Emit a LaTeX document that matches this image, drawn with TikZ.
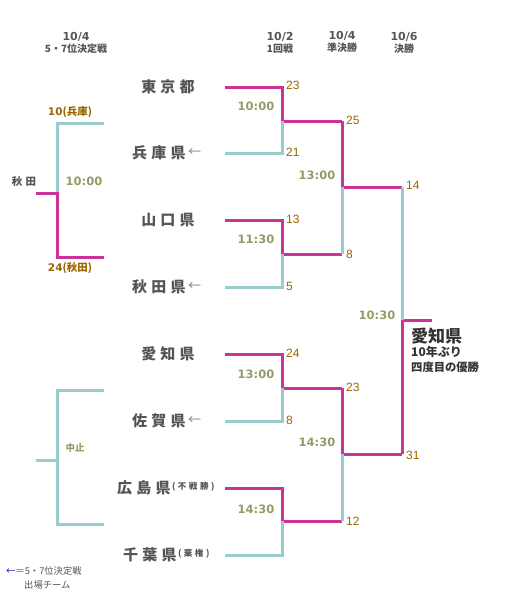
\documentclass[tikz,border=0pt]{standalone}
\usepackage{fontspec}
\setmainfont{DejaVu Sans}
\newfontfamily\scorefont{Liberation Sans}
\newfontfamily\jp{Noto Sans CJK JP}
\newfontfamily\jpsp{Noto Sans CJK JP}[LetterSpace=28]
\newfontfamily\jpsm{Noto Sans CJK JP}[LetterSpace=30]
\definecolor{mag}{HTML}{CC3399}
\definecolor{cy}{HTML}{99CCCC}
\definecolor{sc}{HTML}{996600}
\definecolor{tm}{HTML}{999966}
\definecolor{tx}{HTML}{555555}
\definecolor{win}{HTML}{333333}
\tikzset{
  won/.style={draw=mag,line width=3pt},
  lost/.style={draw=cy,line width=3pt},
  team/.style={text=tx,font=\jpsp\bfseries\fontsize{15}{15}\selectfont,inner sep=0pt},
  note/.style={text=tx,font=\jpsm\bfseries\fontsize{8.5}{8.5}\selectfont,anchor=west,inner sep=0pt},
  score/.style={text=sc,font=\scorefont\fontsize{12}{12}\selectfont,anchor=west,inner sep=0pt},
  time/.style={text=tm,font=\bfseries\fontsize{11.5}{11.5}\selectfont,inner sep=0pt},
  head/.style={text=tx,font=\bfseries\fontsize{11}{11}\selectfont,inner sep=0pt},
  sub/.style={text=tx,font=\jp\bfseries\fontsize{10}{10}\selectfont,inner sep=0pt},
  arr/.style={text=gray,font=\jp\fontsize{13}{13}\selectfont,anchor=west,inner sep=0pt}
}
\begin{document}
\begin{tikzpicture}[x=1pt,y=-1pt]
\useasboundingbox (0,0) rectangle (520,597);
% coordinates
\foreach \n/\y in {1/87,2/153,3/220,4/287,5/354,6/421,7/488,8/555}{
  \coordinate (L\n) at (225,\y);
  \coordinate (R\n) at (282,\y);
}
\foreach \n/\y in {1/121,2/254,3/388,4/521}{
  \coordinate (M\n) at (282,\y);
  \coordinate (Q\n) at (342,\y);
}
\coordinate (S1) at (342,187); \coordinate (F1) at (402,187);
\coordinate (S2) at (342,454); \coordinate (F2) at (402,454);
\coordinate (FM) at (402,320); \coordinate (FE) at (432,320);
% round 1
\draw[won] (L1) -- (R1) -- (M1) -- (Q1);
\draw[lost] (L2) -- (R2) -- (M1);
\draw[won] (L3) -- (R3) -- (M2) -- (Q2);
\draw[lost] (L4) -- (R4) -- (M2);
\draw[won] (L5) -- (R5) -- (M3) -- (Q3);
\draw[lost] (L6) -- (R6) -- (M3);
\draw[won] (L7) -- (R7) -- (M4) -- (Q4);
\draw[lost] (L8) -- (R8) -- (M4);
% semifinals
\draw[won] (Q1) -- (S1) -- (F1);
\draw[lost] (Q2) -- (S1);
\draw[won] (Q3) -- (S2) -- (F2);
\draw[lost] (Q4) -- (S2);
% final
\draw[won] (F2) -- (FM) -- (FE);
\draw[lost] (F1) -- (FM);
% consolation 1
\coordinate (CA) at (104,123); \coordinate (CB) at (57,123);
\coordinate (CM) at (57,193); \coordinate (CS) at (36,193);
\coordinate (CC) at (57,257); \coordinate (CD) at (104,257);
\draw[lost] (CA) -- (CB) -- (CM);
\draw[won] (CD) -- (CC) -- (CM) -- (CS);
% consolation 2
\coordinate (DA) at (104,390); \coordinate (DB) at (57,390);
\coordinate (DC) at (57,524); \coordinate (DD) at (104,524);
\coordinate (DM) at (57,460); \coordinate (DS) at (36,460);
\draw[lost] (DA) -- (DB) -- (DC) -- (DD);
\draw[lost] (DS) -- (DM);
% headers
\node[head] (h1) at (76,37) {10/4};
\node[sub] (h1s) at (76,49) {5・7位決定戦};
\node[head] (h2) at (280,37) {10/2};
\node[sub] (h2s) at (280,49) {1回戦};
\node[head] (h3) at (342,36) {10/4};
\node[sub] (h3s) at (342,48) {準決勝};
\node[head] (h4) at (404,37) {10/6};
\node[sub] (h4s) at (404,49) {決勝};
% teams
\node[team] (t1) at (168,87) {東京都};
\node[team,anchor=west] (t2) at (132,153) {兵庫県};
\node[arr] (a2) at ([xshift=2pt]t2.east) {←};
\node[team] (t3) at (168,220) {山口県};
\node[team,anchor=west] (t4) at (132,287) {秋田県};
\node[arr] (a4) at ([xshift=2pt]t4.east) {←};
\node[team] (t5) at (168,354) {愛知県};
\node[team,anchor=west] (t6) at (132,421) {佐賀県};
\node[arr] (a6) at ([xshift=2pt]t6.east) {←};
\node[team,anchor=west] (t7) at (117,488) {広島県};
\node[note] (n7) at ([xshift=1pt,yshift=1pt]t7.east) {(不戦勝)};
\node[team,anchor=west] (t8) at (123,555) {千葉県};
\node[note] (n8) at ([xshift=1pt,yshift=1pt]t8.east) {(棄権)};
% scores
\node[score] (s1) at (286,85) {23};
\node[score] (s2) at (286,152) {21};
\node[score] (s3) at (286,219) {13};
\node[score] (s4) at (286,286) {5};
\node[score] (s5) at (286,353) {24};
\node[score] (s6) at (286,420) {8};
\node[score] (s9) at (346,120) {25};
\node[score] (s10) at (346,254) {8};
\node[score] (s11) at (346,387) {23};
\node[score] (s12) at (346,521) {12};
\node[score] (s13) at (406,185) {14};
\node[score] (s14) at (406,455) {31};
% times
\node[time] (m1) at (256,106) {10:00};
\node[time] (m2) at (256,239) {11:30};
\node[time] (m3) at (256,374) {13:00};
\node[time] (m4) at (256,509) {14:30};
\node[time] (m5) at (317,175) {13:00};
\node[time] (m6) at (317,442) {14:30};
\node[time] (m7) at (377,315) {10:30};
\node[time] (m8) at (84,181) {10:00};
\node[text=tm,font=\jp\bfseries\fontsize{9.5}{9.5}\selectfont,inner sep=0pt] (m9) at (75,448) {中止};
% consolation labels
\node[text=sc,font=\bfseries\fontsize{10.5}{10.5}\selectfont,inner sep=0pt] (c1) at (70,112) {10\jp(兵庫)};
\node[text=sc,font=\bfseries\fontsize{10.5}{10.5}\selectfont,inner sep=0pt] (c2) at (70,268) {24\jp(秋田)};
\node[text=tx,font=\jpsm\bfseries\fontsize{10.5}{10.5}\selectfont,inner sep=0pt] (c3) at (24,182) {秋田};
% winner
\node[text=win,font=\jp\bfseries\fontsize{17}{17}\selectfont,anchor=west,inner sep=0pt] (w1) at (411,336) {愛知県};
\node[text=win,font=\jp\bfseries\fontsize{12}{12}\selectfont,anchor=west,inner sep=0pt] (w2) at (411,352) {10年ぶり};
\node[text=win,font=\jp\bfseries\fontsize{11.3}{11.3}\selectfont,anchor=west,inner sep=0pt] (w3) at (411,367) {四度目の優勝};
% legend
\node[text=tx,font=\jp\fontsize{9.3}{9.3}\selectfont,anchor=west,inner sep=0pt] (lg1) at (6,571) {\textcolor{blue!70!black}{←}＝5・7位決定戦};
\node[text=tx,font=\jp\fontsize{9.3}{9.3}\selectfont,anchor=west,inner sep=0pt] (lg2) at (24,585) {出場チーム};
\end{tikzpicture}
\end{document}
